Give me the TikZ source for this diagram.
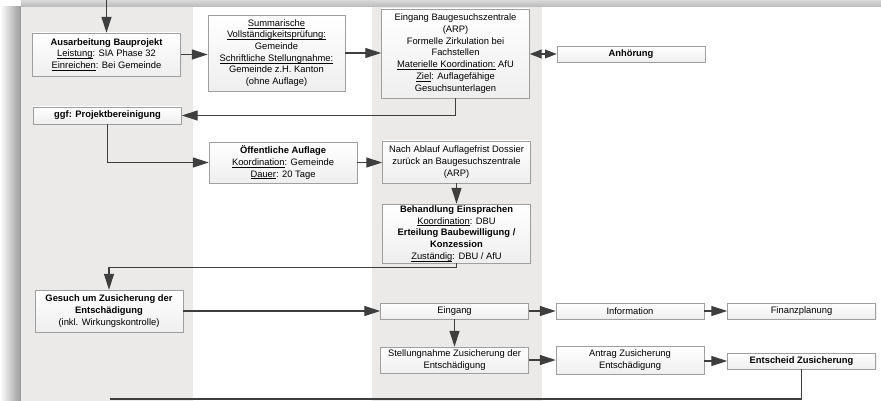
\documentclass[tikz,border=0pt]{standalone}
\usepackage{fontspec}
\setmainfont{Liberation Sans}
\usetikzlibrary{arrows.meta,shadows}
\definecolor{carril}{HTML}{EBEAE9}
\definecolor{gristrazo}{HTML}{3E3E3E}
\newcommand\subr[1]{\underline{\raisebox{0pt}[\height][0pt]{#1}}}
\begin{document}
\begin{tikzpicture}[x=0.03cm,y=-0.03cm,
    caja/.style={draw=gray!75, line width=0.5pt, top color=white, bottom color=gray!13,
        align=center, inner sep=0.5pt, minimum width=148*0.03cm,
        font=\fontsize{8}{10}\selectfont,
        drop shadow={shadow xshift=1pt,shadow yshift=-1pt,fill=gray!22}},
    alto/.style={minimum height=#1*0.03cm},
    trazo/.style={draw=gristrazo, line width=1pt},
    flecha/.style={trazo, -{Triangle[length=13.5pt,width=8.5pt]}},
    doble/.style={trazo, {Triangle[length=10pt,width=7.5pt]}-{Triangle[length=10pt,width=7.5pt]}}]

    \useasboundingbox (0,0) rectangle (881,401);

    %Fondo
    \shade[left color=white, right color=gray!80] (0,7) rectangle (21,401);
    \shade[top color=gray!30, bottom color=gray!55] (21,0) rectangle (881,7);
    \fill[white] (21,7) rectangle (881,401);
    \foreach \a/\b in {21/193,372/542}
        \fill[carril] (\a,7) rectangle (\b,401);

    %Cajas
    \node[caja, alto=43] (aus) at (106.5,54.5) {\textbf{Ausarbeitung Bauprojekt}\\\subr{Leistung}: SIA Phase 32\\\subr{Einreichen}: Bei Gemeinde};
    \node[caja, alto=76, minimum width=137*0.03cm] (sum) at (276.5,53) {\subr{Summarische}\\\subr{Vollständigkeitsprüfung:}\\Gemeinde\\\subr{Schriftliche Stellungnahme:}\\Gemeinde z.H. Kanton\\(ohne Auflage)};
    \node[caja, alto=89] (ein) at (455.5,53.5) {Eingang Baugesuchszentrale\\(ARP)\\Formelle Zirkulation bei\\Fachstellen\\\subr{Materielle Koordination:} AfU\\\subr{Ziel}: Auflagefähige\\Gesuchsunterlagen};
    \node[caja, alto=16] (anh) at (631,54) {\textbf{Anhörung}};
    \node[caja, alto=17] (ggf) at (107.5,115.5) {\textbf{ggf: Projektbereinigung}};
    \node[caja, alto=41] (oef) at (283,162.5) {\textbf{Öffentliche Auflage}\\\subr{Koordination}: Gemeinde\\\subr{Dauer}: 20 Tage};
    \node[caja, alto=42] (nach) at (456.5,162) {Nach Ablauf Auflagefrist Dossier\\zurück an Baugesuchszentrale\\(ARP)};
    \node[caja, alto=59] (beh) at (456.5,233.5) {\textbf{Behandlung Einsprachen}\\\subr{Koordination}: DBU\\\textbf{Erteilung Baubewilligung /}\\\textbf{Konzession}\\\subr{Zuständig}: DBU / AfU};
    \node[caja, alto=42] (ges) at (109,311) {\textbf{Gesuch um Zusicherung der}\\\textbf{Entschädigung}\\(inkl. Wirkungskontrolle)};
    \node[caja, alto=16] (eing) at (454.5,311) {Eingang};
    \node[caja, alto=16] (inf) at (630,311) {Information};
    \node[caja, alto=16] (fin) at (801.5,311) {Finanzplanung};
    \node[caja, alto=26] (ste) at (454.5,360) {Stellungnahme Zusicherung der\\Entschädigung};
    \node[caja, alto=28] (ant) at (630,360) {Antrag Zusicherung\\Entschädigung};
    \node[caja, alto=16] (ent) at (801.5,361) {\textbf{Entscheid Zusicherung}};

    \coordinate (inicio) at (106.5,0);
    \coordinate (cierre) at (110,399);

    %Flechas
    \draw[flecha] (inicio) -- (aus);
    \draw[flecha] (aus.east) -- (aus.east -| sum.west);
    \draw[flecha] (sum.east) -- (sum.east -| ein.west);
    \draw[doble] (ein.east |- anh.west) -- (anh.west);
    \draw[flecha] (ein.south) |- (ggf.east);
    \draw[flecha] (ggf.south) |- (oef.west);
    \draw[flecha] (oef.east) -- (oef.east -| nach.west);
    \draw[flecha] (nach.south) -- (beh.north);
    \draw[flecha] (beh.south) -- ++(0,4.5) -| (ges.north);
    \foreach \a/\b in {ges/eing,eing/inf,inf/fin,ste/ant}
        \draw[flecha] (\a.east) -- (\b.west);
    \draw[flecha] (ant.east |- ent.west) -- (ent.west);
    \draw[flecha] (eing.south) -- (ste.north);
    \draw[trazo] (ent.south) |- (cierre);

\end{tikzpicture}
\end{document}
